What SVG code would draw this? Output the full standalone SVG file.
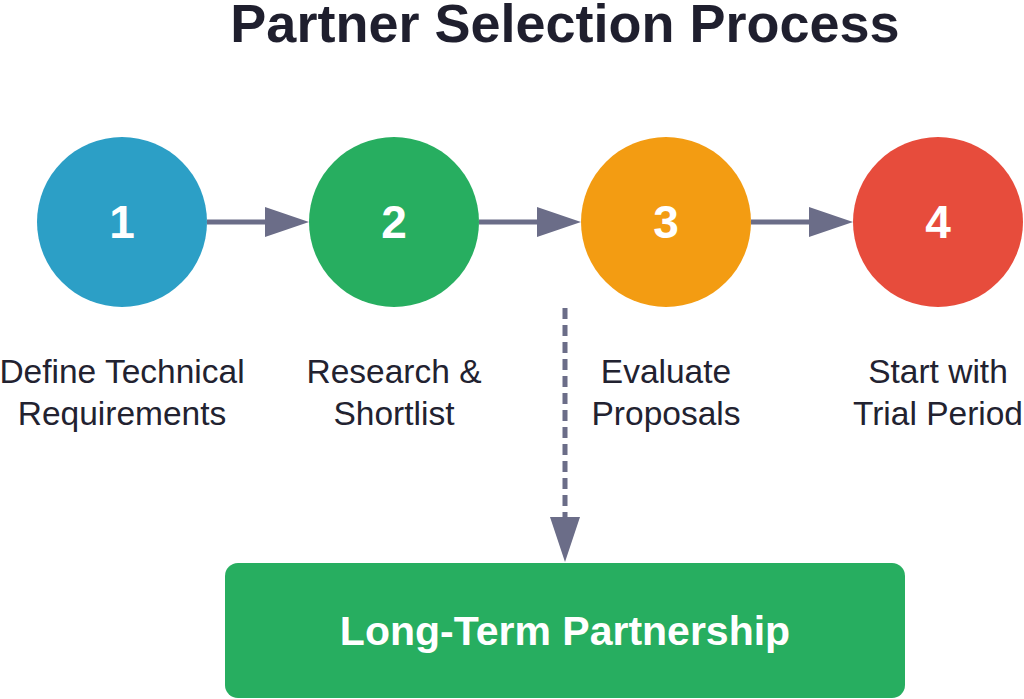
<svg xmlns="http://www.w3.org/2000/svg" width="1024" height="699" viewBox="0 0 1024 699">
<defs>
<style>
.title{font-family:"Liberation Sans",Arial,sans-serif;font-weight:bold;font-size:54px;fill:#1f1f2e;text-anchor:middle}
.num{font-family:"Liberation Sans",Arial,sans-serif;font-weight:bold;font-size:46px;fill:#ffffff;text-anchor:middle}
.lbl{font-family:"Liberation Sans",Arial,sans-serif;font-size:33.5px;fill:#222230;text-anchor:middle}
.box{font-family:"Liberation Sans",Arial,sans-serif;font-weight:bold;font-size:41px;fill:#ffffff;text-anchor:middle}
.conn{stroke:#6b6d88;stroke-width:5;fill:none}
</style>
</defs>
<rect width="1024" height="699" fill="#ffffff"/>
<text class="title" x="565" y="42">Partner Selection Process</text>
<g id="connectors">
<line class="conn" x1="207" y1="222" x2="268" y2="222"/>
<polygon points="265,207 309,222 265,237" fill="#6b6d88"/>
<line class="conn" x1="479" y1="222" x2="540" y2="222"/>
<polygon points="537,207 581,222 537,237" fill="#6b6d88"/>
<line class="conn" x1="751" y1="222" x2="812" y2="222"/>
<polygon points="809,207 853,222 809,237" fill="#6b6d88"/>
<line class="conn" x1="565" y1="308" x2="565" y2="520" stroke-dasharray="11,6"/>
<polygon points="550,517 580,517 565,562" fill="#6b6d88"/>
</g>
<g id="step1">
<circle cx="122" cy="222" r="85" fill="#2c9fc6"/>
<text class="num" x="122" y="238">1</text>
<text class="lbl" x="122" y="383">Define Technical</text>
<text class="lbl" x="122" y="425">Requirements</text>
</g>
<g id="step2">
<circle cx="394" cy="222" r="85" fill="#27ae60"/>
<text class="num" x="394" y="238">2</text>
<text class="lbl" x="394" y="383">Research &amp;</text>
<text class="lbl" x="394" y="425">Shortlist</text>
</g>
<g id="step3">
<circle cx="666" cy="222" r="85" fill="#f39c12"/>
<text class="num" x="666" y="238">3</text>
<text class="lbl" x="666" y="383">Evaluate</text>
<text class="lbl" x="666" y="425">Proposals</text>
</g>
<g id="step4">
<circle cx="938" cy="222" r="85" fill="#e74c3c"/>
<text class="num" x="938" y="238">4</text>
<text class="lbl" x="938" y="383">Start with</text>
<text class="lbl" x="938" y="425">Trial Period</text>
</g>
<g id="partnership">
<rect x="225" y="563" width="680" height="135" rx="13" fill="#27ae60"/>
<text class="box" x="565" y="645">Long-Term Partnership</text>
</g>
</svg>
